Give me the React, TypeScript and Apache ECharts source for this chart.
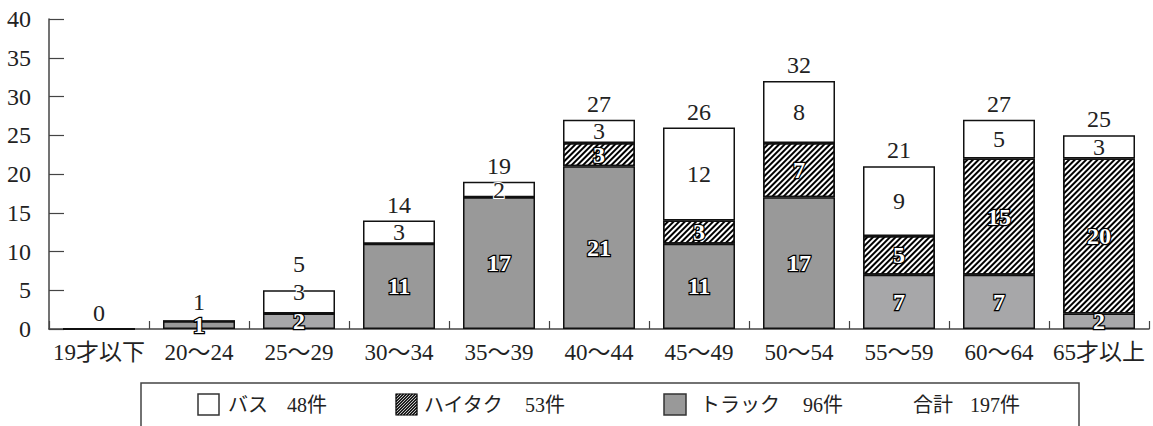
import React, { useEffect, useRef } from "react";
import * as echarts from "echarts";

const categories = ["19才以下", "20〜24", "25〜29", "30〜34", "35〜39", "40〜44", "45〜49", "50〜54", "55〜59", "60〜64", "65才以上"];
const truck = [0, 1, 2, 11, 17, 21, 11, 17, 7, 7, 2];
const hitaku = [0, 0, 0, 0, 0, 3, 3, 7, 5, 15, 20];
const bus = [0, 0, 3, 3, 2, 3, 12, 8, 9, 5, 3];
const yTicks = [0, 5, 10, 15, 20, 25, 30, 35, 40];
const seriesNames = ["バス", "ハイタク", "トラック"];
const totalLabel = "合計";

const FONT = '"Liberation Serif", "Noto Sans CJK JP", serif';
const TRUCK_FILLS = ["#999999", "#999999", "#a7a7a9", "#999999", "#999999", "#999999", "#999999", "#999999", "#a7a7a9", "#a7a7a9", "#a7a7a9"];

const sum = (a: number[]) => a.reduce((s, v) => s + v, 0);

export default function App() {
  const ref = useRef<HTMLDivElement>(null);
  useEffect(() => {
    if (!ref.current) return;
    const chart = echarts.init(ref.current, null, { renderer: "svg" });
    const totals = categories.map((_, i) => truck[i] + hitaku[i] + bus[i]);

    const outlinedLabel = {
      show: true,
      position: "inside",
      color: "#fff",
      textBorderColor: "#000",
      textBorderWidth: 2.5,
      fontFamily: FONT,
      fontSize: 24,
      fontWeight: "bold",
      formatter: (p: any) => (p.value ? String(p.value) : ""),
    };

    // hatched legend square lines
    const hx = 396, hy = 394, hs = 21;
    const hatchLines: any[] = [];
    for (let k = 1.5; k < hs * 2; k += 3) {
      const u1 = Math.max(0, k - hs);
      const u2 = Math.min(hs, k);
      hatchLines.push({
        type: "line",
        shape: { x1: hx + u1, y1: hy + (k - u1), x2: hx + u2, y2: hy + (k - u2) },
        style: { stroke: "#000", lineWidth: 1.4 },
      });
    }

    const legendText = (text: string, x: number) => ({
      type: "text",
      x,
      y: 405,
      style: { text, fill: "#222", fontFamily: FONT, fontSize: 20, verticalAlign: "middle", align: "left" },
    });

    const option: any = {
      animation: false,
      grid: { left: 49, top: 19, width: 1100, height: 310, containLabel: false },
      xAxis: {
        type: "category",
        data: categories,
        axisLine: { lineStyle: { color: "#444", width: 1.5 } },
        axisTick: { show: true, inside: true, length: 8, interval: 0, lineStyle: { color: "#444", width: 1.2 } },
        axisLabel: { color: "#222", fontFamily: FONT, fontSize: 23, margin: 12, interval: 0 },
      },
      yAxis: {
        type: "value",
        min: 0,
        max: 40,
        interval: 5,
        axisLine: { show: true, lineStyle: { color: "#444", width: 1.5 } },
        axisTick: { show: true, inside: true, length: 15, lineStyle: { color: "#444", width: 1.2 } },
        axisLabel: { color: "#222", fontFamily: FONT, fontSize: 24, margin: 18, formatter: (v: number) => (yTicks.includes(v) ? String(v) : "") },
        splitLine: { show: false },
      },
      series: [
        {
          name: seriesNames[2],
          type: "bar",
          stack: "a",
          barWidth: 72,
          data: truck.map((v, i) => ({ value: v, itemStyle: { color: TRUCK_FILLS[i] } })),
          itemStyle: { borderColor: "#111", borderWidth: 1.5 },
          label: outlinedLabel,
        },
        {
          name: seriesNames[1],
          type: "bar",
          stack: "a",
          barWidth: 72,
          data: hitaku,
          itemStyle: {
            color: "#fff",
            borderColor: "#111",
            borderWidth: 1.5,
            decal: {
              symbol: "rect",
              symbolSize: 1,
              color: "#000",
              dashArrayX: [1, 0],
              dashArrayY: [1.4, 1.6],
              rotation: -Math.PI / 4,
            },
          },
          label: outlinedLabel,
        },
        {
          name: seriesNames[0],
          type: "bar",
          stack: "a",
          barWidth: 72,
          data: bus.map((v, i) => (i === 2 ? { value: v, label: { offset: [0, -10] } } : v)),
          itemStyle: { color: "#fff", borderColor: "#111", borderWidth: 1.5 },
          label: {
            show: true,
            position: "inside",
            color: "#222",
            textBorderColor: "#fff",
            textBorderWidth: 2,
            fontFamily: FONT,
            fontSize: 24,
            formatter: (p: any) => (p.value ? String(p.value) : ""),
          },
        },
        {
          name: totalLabel,
          type: "scatter",
          data: totals.map((v, i) =>
            i === 2 ? { value: v, label: { offset: [0, -10] } } : i === 1 ? { value: v, label: { offset: [0, -3] } } : v
          ),
          symbolSize: 0,
          z: 10,
          itemStyle: { opacity: 1, color: "#222" },
          label: {
            show: true,
            position: "top",
            distance: 4,
            color: "#222",
            fontFamily: FONT,
            fontSize: 24,
            formatter: (p: any) => String(p.value),
          },
        },
      ],
      graphic: [
        {
          type: "rect",
          shape: { x: 141, y: 383, width: 938, height: 80 },
          style: { fill: "none", stroke: "#444", lineWidth: 1.5 },
        },
        { type: "rect", shape: { x: 198, y: 394, width: 21, height: 21 }, style: { fill: "#fff", stroke: "#333", lineWidth: 1.5 } },
        legendText(seriesNames[0], 228),
        legendText(`${sum(bus)}件`, 287),
        ...hatchLines,
        { type: "rect", shape: { x: hx, y: hy, width: hs, height: hs }, style: { fill: "none", stroke: "#000", lineWidth: 1.2 } },
        legendText(seriesNames[1], 424),
        legendText(`${sum(hitaku)}件`, 525),
        { type: "rect", shape: { x: 664, y: 394, width: 22, height: 21 }, style: { fill: "#999", stroke: "#333", lineWidth: 1.5 } },
        legendText(seriesNames[2], 700),
        legendText(`${sum(truck)}件`, 803),
        legendText(totalLabel, 913),
        legendText(`${sum(truck) + sum(hitaku) + sum(bus)}件`, 970),
      ],
    };
    chart.setOption(option);
    return () => chart.dispose();
  }, []);
  return <div ref={ref} style={{ position: "fixed", left: 0, top: 0, width: 1153, height: 426, background: "#fff" }} />;
}
